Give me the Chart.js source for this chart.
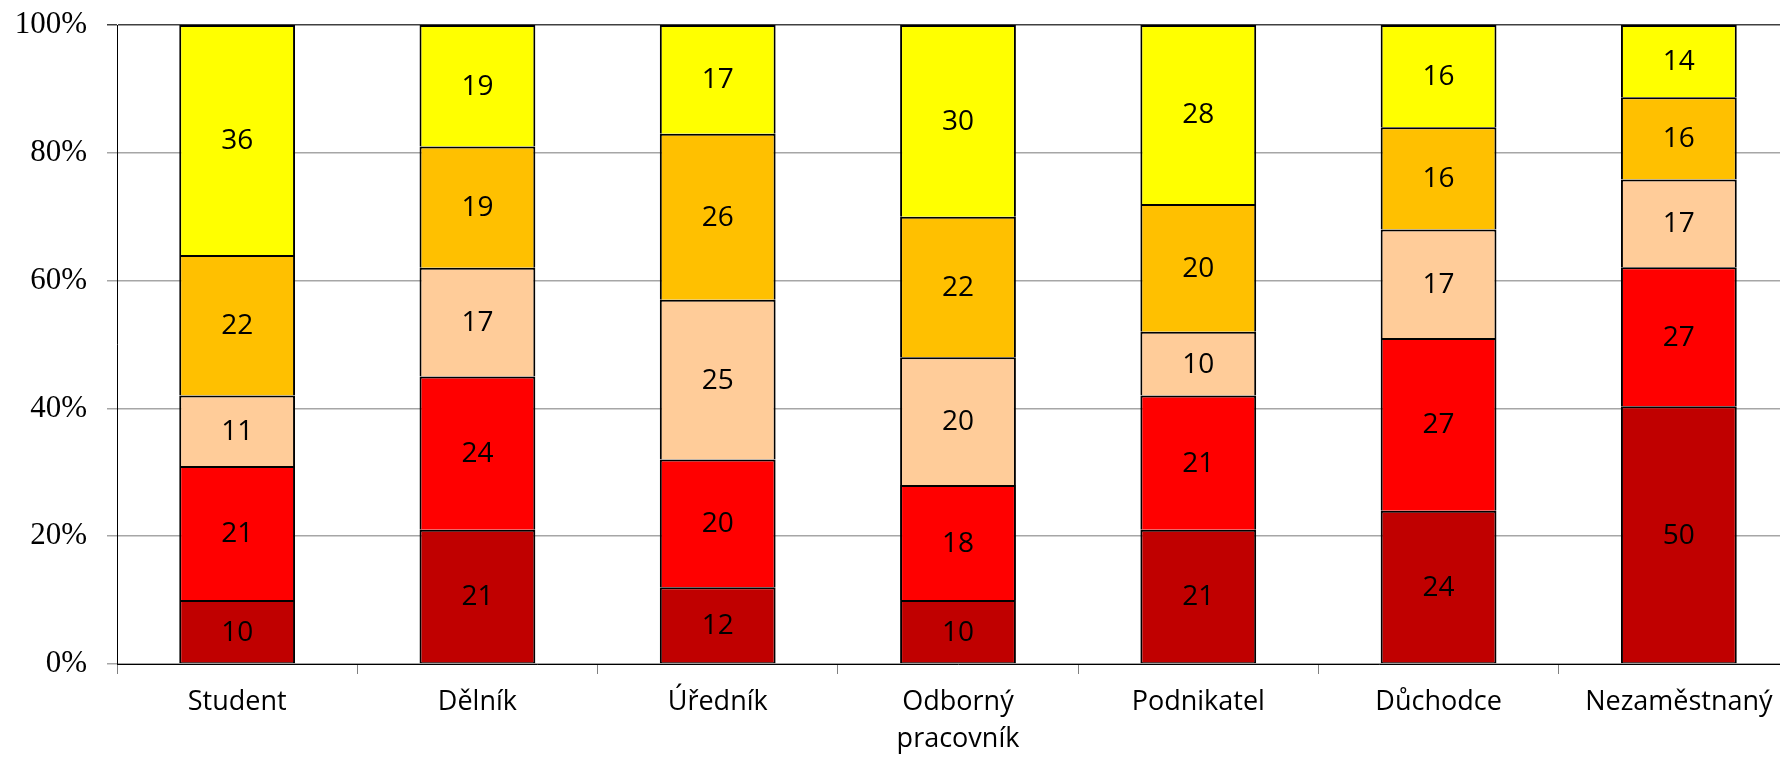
<!DOCTYPE html>
<html>
<head>
<meta charset="utf-8">
<script src="https://cdn.jsdelivr.net/npm/chart.js@4"></script>
<style>
  html, body { margin: 0; padding: 0; background: #fff; overflow: hidden; }
  #wrap { position: relative; width: 1810px; height: 759px; }
</style>
</head>
<body>
<div id="wrap"><canvas id="myChart"></canvas></div>
<script>
const categories = ["Student", "Dělník", "Úředník", ["Odborný", "pracovník"], "Podnikatel", "Důchodce", "Nezaměstnaný"];

// counts per category, bottom segment first
const series1 = [10, 21, 12, 10, 21, 24, 50];
const series2 = [21, 24, 20, 18, 21, 27, 27];
const series3 = [11, 17, 25, 20, 10, 17, 17];
const series4 = [22, 19, 26, 22, 20, 16, 16];
const series5 = [36, 19, 17, 30, 28, 16, 14];

const yTicks = [0, 20, 40, 60, 80, 100];

const allSeries = [series1, series2, series3, series4, series5];
const colors = ["#C00000", "#FF0000", "#FFCC99", "#FFC000", "#FFFF00"];

// 100% stacked: share of each count in its category
const totals = categories.map((c, i) => allSeries.reduce((s, arr) => s + arr[i], 0));
const toPct = (arr) => arr.map((v, i) => (v / totals[i]) * 100);

const datasets = allSeries.map((arr, k) => ({
  label: "Řada " + (k + 1),
  data: toPct(arr),
  counts: arr,
  backgroundColor: colors[k],
  borderColor: "#000000",
  borderWidth: { left: 2, right: 2, top: 2, bottom: k === 0 ? 1 : 0 },
  borderSkipped: false,
  barPercentage: 0.482,
  categoryPercentage: 1,
}));

// writes the raw count in the middle of each segment
const countLabels = {
  id: "countLabels",
  afterDatasetsDraw(chart) {
    const ctx = chart.ctx;
    ctx.save();
    ctx.font = "28px 'Open Sans'";
    ctx.fillStyle = "#000";
    ctx.textAlign = "center";
    ctx.textBaseline = "middle";
    chart.data.datasets.forEach((ds, di) => {
      chart.getDatasetMeta(di).data.forEach((bar, i) => {
        const mid = (bar.y + bar.base) / 2;
        ctx.fillText(String(ds.counts[i]), bar.x, mid + 1);
      });
    });
    ctx.restore();
  },
};

const ctx = document.getElementById("myChart");
new Chart(ctx, {
  type: "bar",
  data: { labels: categories, datasets: datasets },
  options: {
    responsive: true,
    maintainAspectRatio: false,
    animation: false,
    layout: { padding: { top: 25, right: 11, bottom: 0, left: 0 } },
    scales: {
      x: {
        stacked: true,
        border: { color: "#000", width: 1 },
        grid: {
          drawOnChartArea: false,
          drawTicks: true,
          tickLength: 10,
          color: "#808080",
        },
        ticks: {
          color: "#000",
          font: { family: "Open Sans", size: 27, lineHeight: 1.37 },
          padding: 10,
          maxRotation: 0,
          autoSkip: false,
        },
        afterFit: (s) => { s.height = 95; s.paddingLeft = 0; },
      },
      y: {
        stacked: true,
        min: 0,
        max: 100,
        afterBuildTicks: (s) => { s.ticks = yTicks.map((v) => ({ value: v })); },
        border: { color: "#000", width: 1 },
        grid: {
          color: (c) => (c.tick && c.tick.value === 100 ? "#404040" : "#A6A6A6"),
          lineWidth: 1.5,
          tickLength: 10,
        },
        ticks: {
          color: "#000",
          font: { family: "Liberation Serif", size: 31 },
          padding: 20,
          callback: (v) => v + "%",
        },
        afterFit: (s) => { s.width = 117; s.paddingTop = 0; s.paddingBottom = 0; },
      },
    },
    plugins: {
      legend: { display: false },
      tooltip: { enabled: false },
    },
  },
  plugins: [countLabels],
});
</script>
</body>
</html>
